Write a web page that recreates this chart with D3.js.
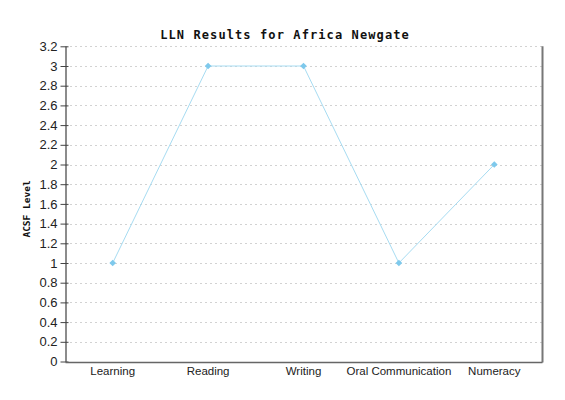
<!DOCTYPE html>
<html><head><meta charset="utf-8">
<script src="https://cdn.jsdelivr.net/npm/d3@7"></script>
<style>body{margin:0;background:#fff}</style>
</head><body>
<svg id="c" width="565" height="400"></svg>
<script>
const categories = ["Learning","Reading","Writing","Oral Communication","Numeracy"];
const values = [1,3,3,1,2];
const yTicks = [0,0.2,0.4,0.6,0.8,1,1.2,1.4,1.6,1.8,2,2.2,2.4,2.6,2.8,3,3.2];

const svg = d3.select("#c");
const L=65, R=542, T=46.3, B=361.5;
const x = d3.scaleBand().domain(categories).range([L,R]);
const y = d3.scaleLinear().domain([0,3.2]).range([B,T]);
const cx = d => x(d)+x.bandwidth()/2;

svg.append("rect").attr("width",565).attr("height",400).attr("fill","#fff");

// grid
svg.append("g").selectAll("line").data(yTicks.filter(t=>t>0)).join("line")
  .attr("x1",L).attr("x2",R).attr("y1",d=>Math.round(y(d))+0.5).attr("y2",d=>Math.round(y(d))+0.5)
  .attr("stroke","#d2d2d2").attr("stroke-dasharray","2,3");

// right border
svg.append("line").attr("x1",R+0.5).attr("x2",R+0.5).attr("y1",T).attr("y2",B+1)
  .attr("stroke","#777").attr("stroke-width",2);

// y axis
const ya = svg.append("g").attr("transform",`translate(${L+0.5},0)`)
  .call(d3.axisLeft(y).tickValues(yTicks).tickFormat(d=>String(+d.toFixed(1))).tickSize(5).tickSizeOuter(0));
ya.select(".domain").attr("stroke","#666").attr("stroke-width",1.5);
ya.selectAll(".tick line").attr("stroke","#444").attr("x2",-5).attr("x1",3);
ya.selectAll(".tick text").attr("font-family","Liberation Sans, Arial").attr("font-size",13).attr("fill","#222").attr("x",-8);

// x axis
const xa = svg.append("g").attr("transform",`translate(0,${B+0.5})`)
  .call(d3.axisBottom(x).tickSize(0).tickSizeOuter(0));
xa.select(".domain").attr("stroke","#666").attr("stroke-width",1.5);
xa.selectAll(".tick text").attr("font-family","Liberation Sans, Arial").attr("font-size",11.5).attr("fill","#222").attr("dy","0.85em");

// line
svg.append("path").datum(values.map((v,i)=>[cx(categories[i]),y(v)]))
  .attr("d",d3.line()).attr("fill","none").attr("stroke","#a7dcf2").attr("stroke-width",1);

// markers
svg.append("g").selectAll("path").data(values).join("path")
  .attr("transform",(d,i)=>`translate(${cx(categories[i])},${y(d)}) rotate(45)`)
  .attr("d",d3.symbol(d3.symbolSquare,22)).attr("fill","#7ec9ec");

// title
svg.append("text").attr("x",285).attr("y",39).attr("text-anchor","middle")
  .attr("font-family","DejaVu Sans Mono").attr("font-weight","bold").attr("font-size",12).attr("letter-spacing",1.1).attr("fill","#111")
  .text("LLN Results for Africa Newgate");

// y label
svg.append("text").attr("transform","translate(30,209) rotate(-90)").attr("text-anchor","middle")
  .attr("font-family","DejaVu Sans Mono").attr("font-weight","bold").attr("font-size",9.5).attr("fill","#111")
  .text("ACSF Level");
</script>
</body></html>
